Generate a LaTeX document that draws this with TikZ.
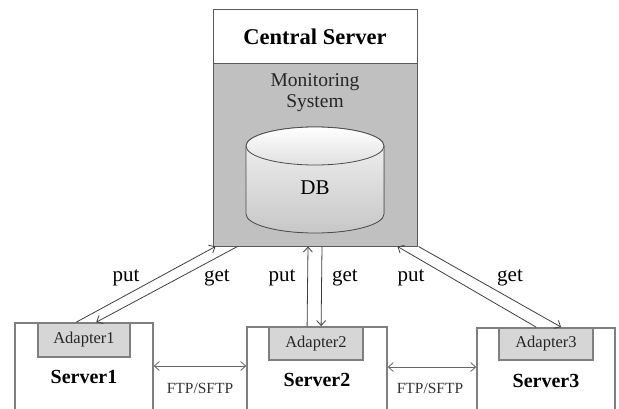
\documentclass[tikz,border=0pt]{standalone}
\usepackage{fontspec}
\setmainfont{Liberation Serif}
\usetikzlibrary{arrows.meta,calc}
\definecolor{monfill}{HTML}{C0C0C0}
\definecolor{adfill}{HTML}{D6D6D6}
\definecolor{boxline}{HTML}{7F7F7F}
\definecolor{cenline}{HTML}{5A5A5A}
\definecolor{arrline}{HTML}{3F3F3F}
\tikzset{
  cenbox/.style={draw=cenline, line width=1pt, rectangle, inner sep=0pt},
  srvbox/.style={draw=boxline, line width=1.6pt, fill=white, rectangle, inner sep=0pt},
  adbox/.style={draw=boxline, line width=1.8pt, fill=adfill, rectangle, inner sep=0pt,
    font=\fontsize{16.5}{18}\selectfont, text=black!85},
  srvtext/.style={font=\fontsize{20}{22}\selectfont\bfseries},
  lbl/.style={font=\fontsize{21}{23}\selectfont},
  ftplbl/.style={font=\fontsize{15.5}{17}\selectfont, text=black!80},
  flow/.style={draw=arrline, line width=0.8pt, -{Straight Barb[length=5pt,width=9pt]}},
  ftp/.style={draw=arrline!80, line width=0.8pt, {Straight Barb[length=5pt,width=9pt]}-{Straight Barb[length=5pt,width=9pt]}}
}
\begin{document}
\begin{tikzpicture}[x=1pt,y=-1pt]
\useasboundingbox (0,0) rectangle (619,409);

% central server
\node[cenbox, fill=white, minimum width=204pt, minimum height=54pt,
  font=\fontsize{22.5}{24}\selectfont\bfseries] (hdr) at (315,37) {Central Server};
\node[cenbox, fill=monfill, minimum width=204pt, minimum height=182pt] (mon) at (315,155) {};
\node[font=\fontsize{19.5}{21}\selectfont, align=center, text=black!85] (montext) at (315,93)
  {Monitoring\\System};

% database cylinder
\fill[top color=white!96!black, bottom color=black!22, draw=black!70, line width=0.8pt]
  (246,146) -- (246,214) arc[start angle=180, end angle=360, x radius=69pt, y radius=19pt]
  -- (384,146) arc[start angle=0, end angle=180, x radius=69pt, y radius=19pt] -- cycle;
\draw[draw=black!70, line width=0.8pt, top color=white, bottom color=black!12]
  (315,146) ellipse[x radius=69pt, y radius=19pt];
\node[font=\fontsize{21}{23}\selectfont] (db) at (315,188) {DB};

% servers with adapters
\node[srvbox, minimum width=138pt, minimum height=93pt] (s1) at (84,369.5) {};
\node[adbox, minimum width=92pt, minimum height=34pt] (a1) at (84,340) {Adapter1};
\node[srvtext] (t1) at (84,377) {Server1};

\node[srvbox, minimum width=140pt, minimum height=89pt] (s2) at (317,371.5) {};
\node[adbox, minimum width=94pt, minimum height=33pt] (a2) at (316,343.5) {Adapter2};
\node[srvtext] (t2) at (317,380) {Server2};

\node[srvbox, minimum width=138pt, minimum height=88pt] (s3) at (546,372) {};
\node[adbox, minimum width=94pt, minimum height=32pt] (a3) at (546,344) {Adapter3};
\node[srvtext] (t3) at (546,381) {Server3};

% put / get transfers
\draw[flow] ([xshift=62pt]s1.north west) -- ([xshift=3pt]mon.south west);
\draw[flow] ([xshift=25pt]mon.south west) -- ([xshift=82pt]s1.north west);
\draw[flow] ([xshift=39pt]a2.north west) -- ([xshift=-7pt]mon.south);
\draw[flow] ([xshift=7pt]mon.south) -- ([xshift=53pt]a2.north west);
\draw[flow] ([xshift=38pt]a3.north west) -- ([xshift=-20pt]mon.south east);
\draw[flow] ([xshift=1pt]mon.south east) -- ([xshift=63pt]a3.north west);

\node[lbl] (put1) at (126,278) {put};
\node[lbl] (get1) at (217,278) {get};
\node[lbl] (put2) at (282,278) {put};
\node[lbl] (get2) at (345,278) {get};
\node[lbl] (put3) at (411,278) {put};
\node[lbl] (get3) at (510,278) {get};

% file transfer between servers
\draw[ftp] ([yshift=3.5pt]s1.east) -- ([yshift=3.5pt]s1.east -| s2.west);
\draw[ftp] ([yshift=4.5pt]s2.east) -- ([yshift=4.5pt]s2.east -| s3.west);
\node[ftplbl] (f1) at (200,388) {FTP/SFTP};
\node[ftplbl] (f2) at (430,388) {FTP/SFTP};
\end{tikzpicture}
\end{document}
